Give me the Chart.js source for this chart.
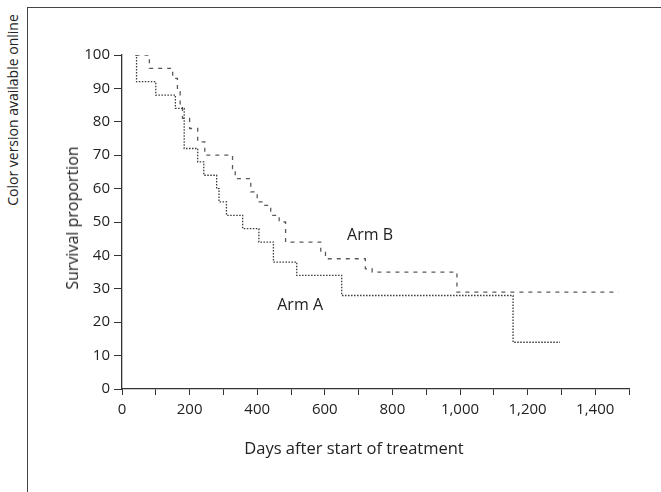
<!DOCTYPE html>
<html>
<head>
<meta charset="utf-8">
<script src="https://cdn.jsdelivr.net/npm/chart.js@4.4.1/dist/chart.umd.min.js"></script>
<style>
  body { margin: 0; background: #fff; }
  #wrap { position: relative; width: 661px; height: 492px; overflow: hidden; background: #fff; font-family: "Open Sans", sans-serif; color: #222; }
  #chart { position: absolute; left: 0; top: 0; }
  .frame { position: absolute; left: 27px; top: 7px; width: 640px; height: 490px; border-top: 1px solid #444; border-left: 1px solid #444; }
  .rot { position: absolute; white-space: nowrap; transform: translate(-50%, -50%) rotate(-90deg); }
  .side-note { left: 12px; top: 110px; font-size: 14px; }
  .y-title { left: 72px; top: 218px; font-size: 16px; }
  .x-title { position: absolute; left: 354px; top: 447px; transform: translate(-50%, -50%); font-size: 16.5px; white-space: nowrap; }
</style>
</head>
<body>
<div id="wrap">
  <div class="frame"></div>
  <div class="rot side-note">Color version available online</div>
  <canvas id="chart" width="661" height="492"></canvas>
  <div class="rot y-title">Survival proportion</div>
  <div class="x-title">Days after start of treatment</div>
</div>
<script>
// --- DATA ---
const armADays = [40, 43, 100, 158, 184, 224, 242, 280, 287, 309, 357, 405, 448, 517, 650, 1157, 1296];
const armASurv = [100, 92, 88, 84, 72, 68, 64, 60, 56, 52, 48, 44, 38, 34, 28, 14, 14];

const armBDays = [40, 81, 150, 164, 172, 179, 200, 224, 245, 327, 335, 381, 400, 419, 440, 465, 484, 588, 602, 720, 740, 991, 1469];
const armBSurv = [100, 96, 93, 89, 85, 81, 78, 74, 70, 66, 63, 59, 56, 55, 52, 50, 44, 41, 39, 36, 35, 29, 29];

const xTickLabels = [0, 200, 400, 600, 800, 1000, 1200, 1400];
const yTickLabels = [0, 10, 20, 30, 40, 50, 60, 70, 80, 90, 100];

const armNames = ['Arm A', 'Arm B'];
const armNameDays = [527, 734];
const armNameSurv = [25, 46.1];

// --- HELPERS ---
const toPoints = (days, surv) => days.map((d, i) => ({ x: d, y: surv[i] }));

const armNamePlugin = {
  id: 'armNames',
  afterDatasetsDraw(chart) {
    const { ctx, scales } = chart;
    ctx.save();
    ctx.font = '16px "Open Sans"';
    ctx.fillStyle = '#222';
    ctx.textAlign = 'center';
    ctx.textBaseline = 'middle';
    armNames.forEach((name, i) => {
      ctx.fillText(name, scales.x.getPixelForValue(armNameDays[i]), scales.y.getPixelForValue(armNameSurv[i]));
    });
    ctx.restore();
  }
};

const tickFont = { family: 'Open Sans', size: 15 };

new Chart(document.getElementById('chart'), {
  type: 'line',
  data: {
    datasets: [
      {
        label: 'Arm A',
        data: toPoints(armADays, armASurv),
        stepped: 'before',
        borderColor: '#3a3a3a',
        borderWidth: 1.3,
        borderDash: [1.5, 1.5],
        pointRadius: 0,
        fill: false
      },
      {
        label: 'Arm B',
        data: toPoints(armBDays, armBSurv),
        stepped: 'before',
        borderColor: '#5a5a5a',
        borderWidth: 1.3,
        borderDash: [4, 5],
        pointRadius: 0,
        fill: false
      }
    ]
  },
  options: {
    responsive: false,
    animation: false,
    devicePixelRatio: 1,
    layout: { padding: { top: 55, right: 32, bottom: 0, left: 0 } },
    plugins: { legend: { display: false }, tooltip: { enabled: false } },
    scales: {
      x: {
        type: 'linear',
        min: 0,
        max: 1500,
        afterFit: (scale) => { scale.height = 103; },
        border: { display: true, color: '#333', width: 1.3 },
        grid: { display: true, drawOnChartArea: false, drawTicks: true, tickLength: 6, color: '#333' },
        ticks: {
          stepSize: 100,
          padding: 6,
          color: '#222',
          font: tickFont,
          maxRotation: 0,
          autoSkip: false,
          callback: (v) => xTickLabels.includes(v) ? v.toLocaleString('en-US') : ''
        }
      },
      y: {
        min: 0,
        max: 100,
        afterFit: (scale) => { scale.width = 122; },
        border: { display: true, color: '#333', width: 1.3 },
        grid: { display: true, drawOnChartArea: false, drawTicks: true, tickLength: 8, color: '#333' },
        ticks: {
          stepSize: 10,
          padding: 4,
          color: '#222',
          font: tickFont,
          callback: (v) => yTickLabels.includes(v) ? String(v) : ''
        }
      }
    }
  },
  plugins: [armNamePlugin]
});
</script>
</body>
</html>
